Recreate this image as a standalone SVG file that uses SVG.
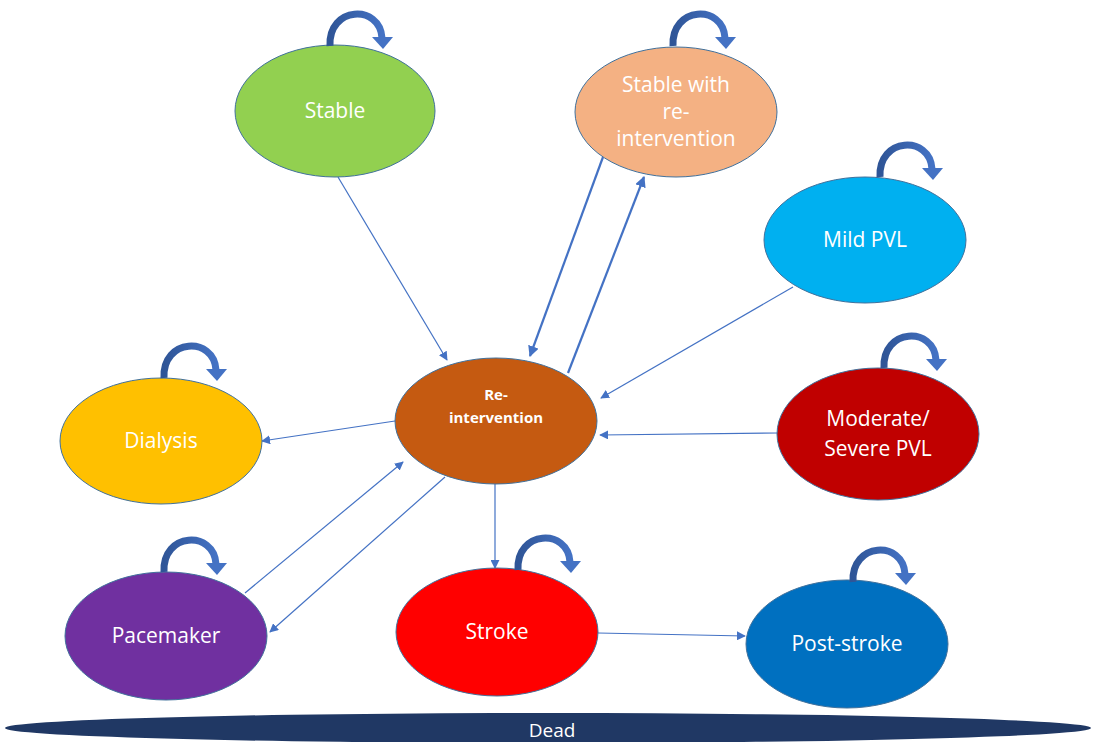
<svg xmlns="http://www.w3.org/2000/svg" width="1096" height="742" viewBox="0 0 1096 742">
<defs>
<style>
.n{stroke:#41719C;stroke-width:1}
.t{fill:#fff;font-family:"Open Sans","Liberation Sans",sans-serif;font-size:21px;text-anchor:middle}
.c{stroke:#4472C4;stroke-width:1.2;fill:none;marker-end:url(#ah)}
.c2{stroke:#4472C4;stroke-width:2.2;fill:none;marker-end:url(#ah2)}
.loop{fill:none;stroke:url(#lg);stroke-width:7}
.head{fill:#4472C4}
</style>
<linearGradient id="lg" x1="0" y1="0" x2="1" y2="0">
<stop offset="0" stop-color="#2F5597"/>
<stop offset="1" stop-color="#4472C4"/>
</linearGradient>
<marker id="ah" viewBox="0 0 10 10" refX="9" refY="5" markerWidth="9" markerHeight="9" markerUnits="userSpaceOnUse" orient="auto">
<path d="M0 0 L10 5 L0 10 z" fill="#4472C4"/>
</marker>
<marker id="ah2" viewBox="0 0 10 10" refX="9" refY="5" markerWidth="11" markerHeight="11" markerUnits="userSpaceOnUse" orient="auto">
<path d="M0 0 L10 5 L0 10 z" fill="#4472C4"/>
</marker>
<g id="loop">
<path class="loop" d="M0 0 C -2 -40 50 -42 52 -8"/>
<polygon class="head" points="42,-9 63,-9 53,3"/>
</g>
</defs>
<rect width="1096" height="742" fill="#fff"/>
<g id="connectors">
<line class="c" x1="338" y1="177" x2="447" y2="360"/>
<line class="c2" x1="603" y1="157" x2="530" y2="356"/>
<line class="c2" x1="568" y1="373" x2="644" y2="177"/>
<line class="c" x1="793" y1="287" x2="601" y2="398"/>
<line class="c" x1="778" y1="433" x2="600" y2="435"/>
<line class="c" x1="395" y1="421" x2="262" y2="441"/>
<line class="c" x1="245" y1="593" x2="403" y2="462"/>
<line class="c" x1="445" y1="477" x2="270" y2="632"/>
<line class="c" x1="495" y1="484" x2="495" y2="568"/>
<line class="c" x1="598" y1="633" x2="745" y2="636"/>
</g>
<g id="dead">
<ellipse cx="548" cy="728" rx="543" ry="15" fill="#203864"/>
<text class="t" x="552" y="737" style="font-size:19px">Dead</text>
</g>
<g id="stable">
<ellipse class="n" cx="335" cy="111" rx="100" ry="66" fill="#92D050"/>
<use href="#loop" x="330" y="46"/>
<text class="t" x="335" y="118">Stable</text>
</g>
<g id="stable-reint">
<ellipse class="n" cx="676" cy="112" rx="101" ry="65" fill="#F4B183"/>
<use href="#loop" x="673" y="46"/>
<text class="t" x="676" y="92">Stable with</text>
<text class="t" x="676" y="119">re-</text>
<text class="t" x="676" y="146">intervention</text>
</g>
<g id="mild-pvl">
<ellipse class="n" cx="865" cy="240" rx="101" ry="63" fill="#00B0F0"/>
<use href="#loop" x="880" y="177"/>
<text class="t" x="865" y="247">Mild PVL</text>
</g>
<g id="mod-pvl">
<ellipse class="n" cx="878" cy="434" rx="101" ry="66" fill="#C00000"/>
<use href="#loop" x="884" y="368"/>
<text class="t" x="878" y="426">Moderate/</text>
<text class="t" x="878" y="456">Severe PVL</text>
</g>
<g id="reint">
<ellipse class="n" cx="496" cy="421" rx="101" ry="63" fill="#C55A11"/>
<text class="t" x="496" y="400" style="font-size:15px;font-weight:bold">Re-</text>
<text class="t" x="496" y="423" style="font-size:15px;font-weight:bold">intervention</text>
</g>
<g id="dialysis">
<ellipse class="n" cx="161" cy="441" rx="101" ry="63" fill="#FFC000"/>
<use href="#loop" x="164" y="378"/>
<text class="t" x="161" y="448">Dialysis</text>
</g>
<g id="pacemaker">
<ellipse class="n" cx="166" cy="636" rx="101" ry="64" fill="#7030A0"/>
<use href="#loop" x="164" y="572"/>
<text class="t" x="166" y="643">Pacemaker</text>
</g>
<g id="stroke">
<ellipse class="n" cx="497" cy="632" rx="101" ry="64" fill="#FF0000"/>
<use href="#loop" x="518" y="570"/>
<text class="t" x="497" y="639">Stroke</text>
</g>
<g id="post-stroke">
<ellipse class="n" cx="847" cy="644" rx="101" ry="64" fill="#0070C0"/>
<use href="#loop" x="853" y="582"/>
<text class="t" x="847" y="651">Post-stroke</text>
</g>
</svg>
